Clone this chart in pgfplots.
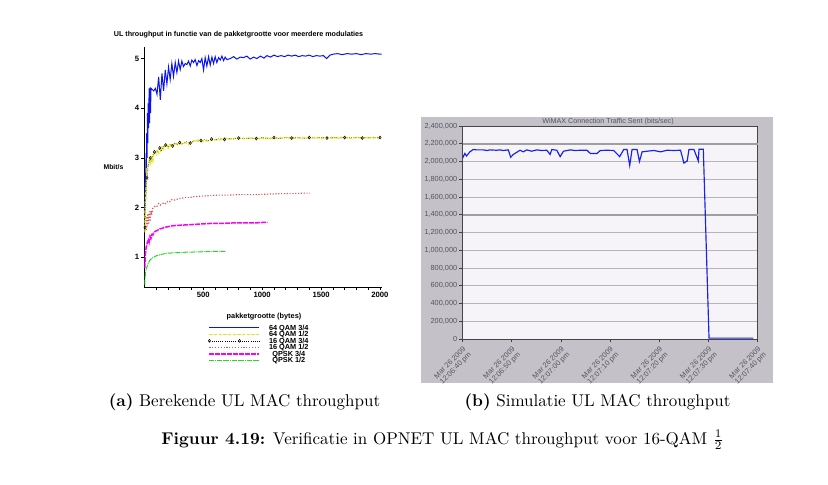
\documentclass[border=0pt]{standalone}
\usepackage{pgfplots}
\pgfplotsset{compat=1.18}
\usepackage{fontspec}
\newfontfamily\lsans{Liberation Sans}
\definecolor{panelgray}{RGB}{196,193,200}
\definecolor{plotbg}{RGB}{246,244,249}
\definecolor{gridgray}{RGB}{184,180,190}
\definecolor{ticktext}{RGB}{85,85,95}
\definecolor{wblue}{RGB}{25,35,230}
\definecolor{ublue}{RGB}{10,20,235}
\definecolor{uyellow}{RGB}{232,232,20}
\definecolor{ured}{RGB}{220,85,85}
\definecolor{umag}{RGB}{250,0,250}
\definecolor{ugreen}{RGB}{40,215,40}
\pgfplotsset{
  linelegend/.style={legend image code/.code={\draw[##1] (0pt,0pt) -- (30pt,0pt);}},
  diamlegend/.style={legend image code/.code={\draw[##1] plot coordinates {(0pt,0pt) (6pt,0pt) (12pt,0pt) (18pt,0pt) (24pt,0pt) (30pt,0pt)};}},
}

\begin{document}
\begin{tikzpicture}[x=0.6pt,y=-0.6pt]
\path[use as bounding box] (0,0) rectangle (828,484);
\fill[panelgray] (421,117) rectangle (773,383);
\coordinate (L) at (144.4,287);
\coordinate (R) at (462.5,339);

% ---- (a) computed throughput
\begin{axis}[
    at={(L)}, anchor=south west,
    scale only axis, width=142.4pt, height=144.2pt,
    xmin=0, xmax=2015, ymin=0.4, ymax=5.24,
    axis lines=left, axis line style={-, line width=0.5pt},
    tick align=outside,
    xtick={500,1000,1500,2000},
    minor xtick={100,200,...,2000},
    ytick={1,2,3,4,5},
    major tick length=2pt, minor tick length=1.5pt,
    tick style={black, line width=0.4pt},
    ticklabel style={font=\lsans\bfseries\fontsize{4.6}{5}\selectfont, inner sep=1pt},
    /pgf/number format/1000 sep={},
    /pgf/number format/assume math mode=true,
    legend style={at={(rel axis cs:0.268,-0.156)}, anchor=north west,
      draw=none, fill=none, inner sep=0pt, row sep=0.3pt,
      font=\lsans\bfseries\fontsize{4.4}{4}\selectfont,
      nodes={inner sep=0.3pt, text height=3pt, text depth=0pt},
      /tikz/every odd column/.append style={column sep=5pt}},
    linelegend,
  ]
  \addplot[ublue, line width=0.6pt] coordinates {
    (4,1.9) (8,2.7) (11,2.2) (14,3.1) (17,2.8) (20,3.5) (23,3.0) (26,3.9)
    (29,3.3) (32,4.1) (36,3.6) (40,4.4) (44,3.7) (48,4.42) (52,3.9) (56,4.4)
    (65,4.38) (79,4.35) (93,4.40) (107,4.28) (121,4.63) (135,4.17) (149,4.70)
    (163,4.35) (177,4.77) (191,4.49) (205,4.83) (219,4.58) (233,4.90) (247,4.64)
    (262,4.92) (276,4.72) (290,4.95) (304,4.78) (318,4.95) (332,4.84) (346,4.90)
    (361,4.88) (375,4.95) (389,4.85) (403,4.97) (417,4.92) (431,4.98) (446,4.86)
    (460,4.96) (474,4.92) (488,5.0) (502,4.77) (516,5.02) (530,4.85) (545,5.04)
    (559,4.87) (573,5.03) (587,4.90) (601,5.04) (615,4.92) (630,5.02) (644,4.97)
    (658,5.05) (672,4.96) (686,5.03) (700,4.98) (729,5.0) (757,5.04) (785,4.99)
    (814,5.03) (842,5.02) (870,5.05) (898,4.99) (927,5.03) (955,5.0) (985,5.05)
    (1015,5.01) (1040,5.06) (1070,5.03) (1100,5.07) (1130,5.04) (1160,5.06)
    (1190,5.04) (1220,5.07) (1250,5.05) (1280,5.07) (1310,5.04) (1340,5.06)
    (1370,5.05) (1400,5.07) (1430,5.04) (1460,5.06) (1490,5.05) (1520,5.06)
    (1547,5.0) (1575,5.07) (1604,5.09) (1640,5.10) (1680,5.08) (1720,5.10)
    (1760,5.09) (1800,5.10) (1840,5.08) (1880,5.10) (1920,5.09) (1960,5.10)
    (2000,5.09) (2015,5.09)
  };
  \addlegendentry{64 QAM 3/4}
  \addplot[uyellow, line width=0.9pt, dash pattern=on 2pt off 0.8pt] coordinates {
    (3,1.5) (6,1.85) (9,2.1) (12,2.3) (16,2.45) (20,2.6) (25,2.72) (30,2.82)
    (35,2.88) (42,2.95) (50,2.9) (58,3.02) (65,3.02) (72,2.95) (80,3.08) (93,3.1)
    (107,3.16) (121,3.1) (135,3.12) (149,3.22) (163,3.18) (177,3.25) (191,3.27)
    (205,3.2) (219,3.24) (233,3.28) (247,3.26) (262,3.3) (276,3.27) (290,3.3)
    (318,3.28) (346,3.31) (375,3.27) (403,3.32) (431,3.34) (460,3.36) (488,3.33)
    (516,3.35) (545,3.34) (573,3.36) (601,3.37) (630,3.36) (658,3.38) (686,3.40)
    (720,3.38) (757,3.39) (800,3.40) (850,3.39) (900,3.40) (950,3.39) (1000,3.40)
    (1050,3.40) (1100,3.39) (1150,3.40) (1200,3.41) (1250,3.40) (1300,3.40)
    (1350,3.41) (1400,3.40) (1450,3.41) (1500,3.40) (1550,3.41) (1600,3.40)
    (1650,3.41) (1700,3.41) (1750,3.40) (1800,3.41) (1850,3.41) (1900,3.40)
    (1950,3.41) (2015,3.41)
  };
  \addlegendentry{64 QAM 1/2}
  \addplot[black, line width=0.3pt, densely dotted, mark=diamond, mark size=0.9pt,
    mark repeat=3, mark options={solid, line width=0.3pt}, diamlegend]
    coordinates {
    (5,1.6) (10,2.0) (15,2.4) (22,2.6) (30,2.8) (40,2.92) (50,3.0) (60,2.93)
    (70,3.05) (85,3.12) (100,3.06) (115,3.15) (130,3.2) (145,3.13) (160,3.22)
    (180,3.26) (200,3.22) (220,3.28) (240,3.24) (260,3.30) (280,3.26) (300,3.31)
    (330,3.29) (360,3.33) (390,3.30) (420,3.36) (450,3.33) (480,3.35) (510,3.37)
    (540,3.35) (570,3.38) (600,3.36) (640,3.39) (680,3.37) (720,3.39) (760,3.38)
    (800,3.40) (850,3.38) (900,3.40) (950,3.39) (1000,3.41) (1050,3.39) (1100,3.41)
    (1150,3.39) (1200,3.41) (1250,3.40) (1300,3.41) (1350,3.39) (1400,3.41)
    (1450,3.40) (1500,3.41) (1550,3.40) (1600,3.41) (1650,3.40) (1700,3.41)
    (1750,3.40) (1800,3.41) (1850,3.40) (1900,3.41) (1950,3.40) (2000,3.41)
  };
  \addlegendentry{16 QAM 3/4}
  \addplot[ured, line width=0.7pt, densely dotted] coordinates {
    (15,1.55) (20,1.82) (25,1.62) (30,1.88) (36,1.66) (42,1.92) (48,1.72) (55,1.93)
    (62,1.85) (70,1.98) (80,2.0) (92,2.03) (105,2.02) (120,2.08) (135,2.05)
    (149,2.07) (165,2.10) (180,2.08) (200,2.13) (220,2.12) (233,2.16) (260,2.15)
    (290,2.18) (320,2.19) (346,2.2) (380,2.20) (420,2.22) (488,2.23) (550,2.24)
    (630,2.25) (700,2.25) (800,2.26) (939,2.26) (1050,2.27) (1150,2.28)
    (1250,2.28) (1350,2.29) (1406,2.29)
  };
  \addlegendentry{16 QAM 1/2}
  \addplot[umag, line width=0.9pt, dash pattern=on 3pt off 0.6pt] coordinates {
    (3,0.78) (6,0.95) (10,1.1) (15,1.2) (20,1.24) (25,1.3) (34,1.35) (40,1.3)
    (48,1.42) (56,1.38) (64,1.46) (72,1.45) (80,1.5) (92,1.52) (110,1.54)
    (130,1.57) (149,1.58) (170,1.6) (191,1.61) (230,1.63) (270,1.64) (346,1.65)
    (420,1.66) (488,1.67) (560,1.68) (650,1.68) (750,1.69) (850,1.69) (939,1.69)
    (1000,1.70) (1047,1.70)
  };
  \addlegendentry{QPSK 3/4}
  \addplot[ugreen, line width=0.6pt, dash pattern=on 3pt off 0.5pt on 0.5pt off 0.5pt] coordinates {
    (3,0.45) (6,0.6) (10,0.7) (15,0.76) (19,0.78) (25,0.83) (34,0.88) (45,0.93)
    (55,0.96) (64,0.98) (80,1.0) (92,1.02) (120,1.04) (149,1.06) (191,1.08)
    (260,1.09) (346,1.10) (420,1.105) (488,1.11) (560,1.115) (630,1.12) (690,1.12)
  };
  \addlegendentry{QPSK 1/2}
\end{axis}

% ---- (b) OPNET simulation
\begin{axis}[
    at={(R)}, anchor=south west,
    scale only axis, width=177pt, height=127.8pt,
    xmin=0, xmax=60, ymin=0, ymax=2400000,
    axis background/.style={fill=plotbg},
    axis line style={draw=gray!55!black, line width=0.5pt},
    xtick={0,10,20,30,40,50,60},
    xticklabels={{Mar 26 2009\\12:06:40 pm},{Mar 26 2009\\12:06:50 pm},
      {Mar 26 2009\\12:07:00 pm},{Mar 26 2009\\12:07:10 pm},
      {Mar 26 2009\\12:07:20 pm},{Mar 26 2009\\12:07:30 pm},
      {Mar 26 2009\\12:07:40 pm}},
    ytick={0,200000,400000,600000,800000,1000000,1200000,1400000,1600000,1800000,2000000,2200000,2400000},
    ymajorgrids, major grid style={gridgray, line width=0.5pt},
    tick align=outside, tick pos=left,
    major tick length=2pt, tick style={gray!50!black, line width=0.4pt},
    scaled y ticks=false,
    yticklabel style={/pgf/number format/.cd, fixed, 1000 sep={,}},
    /pgf/number format/assume math mode=true,
    ticklabel style={font=\lsans\fontsize{4.4}{4.6}\selectfont, text=ticktext, inner sep=1pt},
    xticklabel style={rotate=45, anchor=north east, align=right, inner sep=1.5pt},
    extra y ticks={1400000,2200000}, extra y tick labels={,},
    extra y tick style={major grid style={gray!75, line width=1pt}, tick style={draw=none}},
  ]
  \addplot[wblue, line width=0.7pt] coordinates {
    (0,2036000) (0.48,2091000) (0.82,2062000) (1.5,2109000) (2.18,2135000)
    (2.86,2131000) (4.22,2131000) (5.0,2124000) (5.58,2131000) (6.94,2127000)
    (7.6,2131000) (8.30,2124000) (9.32,2131000) (9.80,2048000) (10.34,2080000)
    (11.70,2127000) (12.38,2109000) (13.06,2131000) (14.08,2116000) (15.10,2131000)
    (16.12,2124000) (17.14,2127000) (17.82,2080000) (18.16,2135000) (19.18,2127000)
    (19.86,2055000) (20.54,2116000) (21.90,2131000) (22.93,2124000) (23.95,2127000)
    (25.31,2127000) (25.99,2091000) (27.35,2091000) (28.03,2124000) (29.39,2127000)
    (30.75,2124000) (31.97,2055000) (32.79,2135000) (33.47,2135000) (34.01,1956000)
    (34.49,2135000) (35.51,2135000) (35.99,2000000) (36.53,2109000) (37.55,2116000)
    (38.91,2124000) (40.27,2109000) (41.63,2127000) (42.99,2124000) (44.35,2127000)
    (45.03,1982000) (45.71,2007000) (46.05,2135000) (47.07,2135000) (47.96,2007000)
    (48.10,2138000) (48.98,2138000) (50.14,10000) (59.18,10000)
  };
\end{axis}

% texts
\node[font=\lsans\bfseries\fontsize{4.3}{5}\selectfont] at (238.5,35)
  {UL throughput in functie van de pakketgrootte voor meerdere modulaties};
\node[font=\lsans\bfseries\fontsize{4.1}{5}\selectfont] at (113.5,167) {Mbit/s};
\node[font=\lsans\bfseries\fontsize{4.4}{5}\selectfont] at (264,316.7) {pakketgrootte (bytes)};
\node[font=\lsans\fontsize{4.3}{5}\selectfont, text=ticktext] at (608,121.7)
  {WiMAX Connection Traffic Sent (bits/sec)};
\node[font=\fontsize{10.2}{12}\selectfont] at (244.5,402) {\textbf{(a)} Berekende UL MAC throughput};
\node[font=\fontsize{10.2}{12}\selectfont] at (597.5,402) {\textbf{(b)} Simulatie UL MAC throughput};
\node[font=\fontsize{10.2}{12}\selectfont] at (442.5,440)
  {\textbf{Figuur 4.19:} Verificatie in OPNET UL MAC throughput voor 16-QAM $\frac{1}{2}$};
\end{tikzpicture}
\end{document}
